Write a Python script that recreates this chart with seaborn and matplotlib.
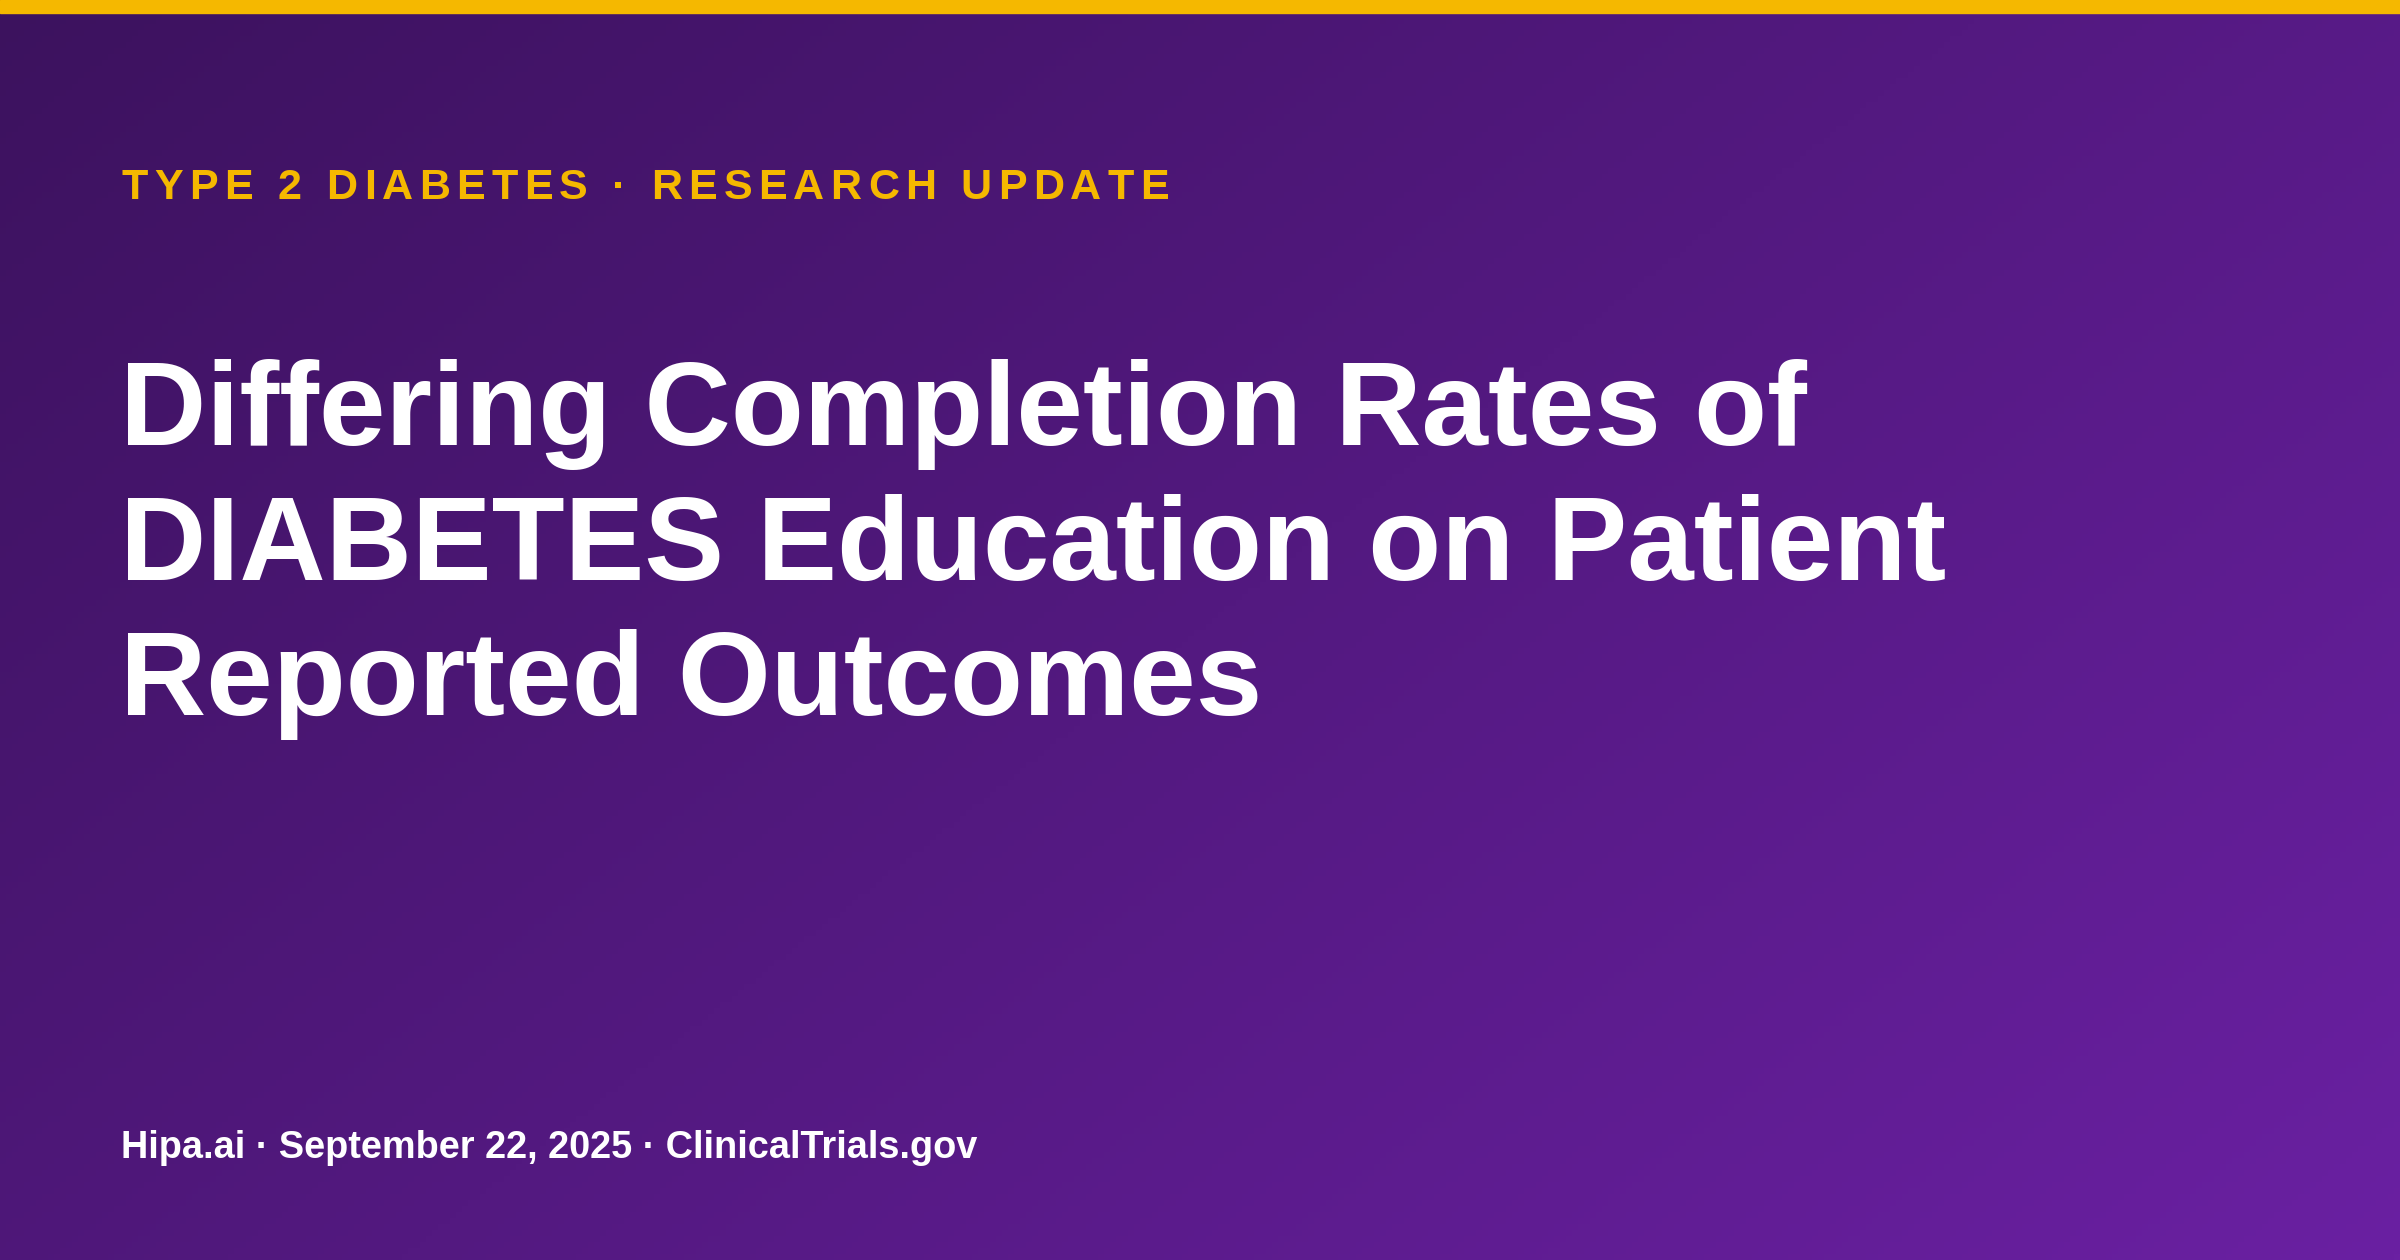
import numpy as np
import matplotlib.pyplot as plt
import seaborn as sns

# ==== CONTENT ====
kicker = "TYPE 2 DIABETES · RESEARCH UPDATE"
title_lines = ["Differing Completion Rates of",
               "DIABETES Education on Patient",
               "Reported Outcomes"]
footer = "Hipa.ai · September 22, 2025 · ClinicalTrials.gov"

sns.set_theme(style="white")
plt.rcParams['font.family'] = ['Liberation Sans', 'DejaVu Sans']

W, H = 2400, 1260
fig = plt.figure(figsize=(24, 12.6), dpi=100)
ax = fig.add_axes([0, 0, 1, 1])
ax.set_xlim(0, W)
ax.set_ylim(H, 0)
ax.axis("off")

# ==== BACKGROUND GRADIENT ====
c0 = np.array([60, 18, 94]) / 255
c1 = np.array([106, 32, 162]) / 255
xx, yy = np.meshgrid(np.linspace(0, 1, 400), np.linspace(0, 1, 210))
t = (xx * 0.6 + yy * 0.4)[..., None]
ax.imshow(c0 + (c1 - c0) * t, extent=[0, W, H, 0], aspect="auto", zorder=0)
ax.add_patch(plt.Rectangle((0, 0), W, 13, color="#F5B800", zorder=1))

# ==== KICKER (letter-spaced) ====
renderer = fig.canvas.get_renderer()
x = 122
for ch in kicker:
    tx = ax.text(x, 188, ch, color="#F5B800", fontsize=31, fontweight="bold",
                 va="center", ha="left")
    w = tx.get_window_extent(renderer).width if ch != " " else 12
    x += w + 6.3

# ==== TITLE ====
for i, line in enumerate(title_lines):
    ax.text(120, 414 + i * 135, line, color="white", fontsize=86,
            fontweight="bold", va="center", ha="left")

# ==== FOOTER ====
ax.text(121, 1148, footer, color="white", fontsize=27.3, fontweight="bold",
        va="center", ha="left")

plt.savefig("out.png", dpi=100)
